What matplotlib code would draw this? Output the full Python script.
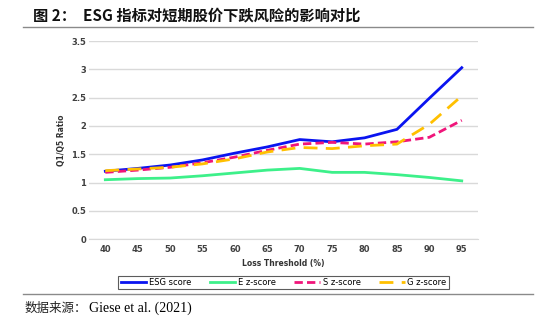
import matplotlib
matplotlib.use("Agg")
import matplotlib.pyplot as plt
from matplotlib.lines import Line2D

plt.rcParams['font.family'] = ['DejaVu Sans', 'Noto Sans CJK SC']

threshold = [40, 45, 50, 55, 60, 65, 70, 75, 80, 85, 90, 95]
esg = [1.20, 1.25, 1.31, 1.40, 1.52, 1.63, 1.76, 1.72, 1.79, 1.94, 2.49, 3.03]
e_z = [1.05, 1.07, 1.08, 1.12, 1.17, 1.22, 1.25, 1.18, 1.18, 1.14, 1.09, 1.03]
s_z = [1.18, 1.22, 1.27, 1.35, 1.45, 1.57, 1.68, 1.71, 1.68, 1.72, 1.80, 2.10]
g_z = [1.21, 1.24, 1.27, 1.33, 1.42, 1.54, 1.62, 1.60, 1.65, 1.68, 2.03, 2.53]
yticks = [0, 0.5, 1, 1.5, 2, 2.5, 3, 3.5]
ytick_labels = ['0', '0.5', '1', '1.5', '2', '2.5', '3', '3.5']

fig = plt.figure(figsize=(5.5, 3.21), dpi=100)
ax = fig.add_axes([0.162, 0.255, 0.707, 0.617])

ax.plot(threshold, esg, color='#0a14f0', lw=2.0, label='ESG score')
ax.plot(threshold, e_z, color='#3df08a', lw=2.0, label='E z-score')
ax.plot(threshold, s_z, color='#f0157a', lw=2.0, ls=(0, (3, 1.5)), label='S z-score')
ax.plot(threshold, g_z, color='#ffc000', lw=2.0, ls=(0, (5, 3)), label='G z-score')

ax.set_xlim(37.5, 97.5)
ax.set_ylim(0, 3.5)
ax.set_xticks(threshold)
ax.set_yticks(yticks)
ax.set_yticklabels(ytick_labels)
ax.grid(axis='y', color='#d9d9d9', lw=1.0)
ax.set_axisbelow(True)
for s in ['top', 'right', 'left']:
    ax.spines[s].set_visible(False)
ax.spines['bottom'].set_color('#d9d9d9')
ax.tick_params(axis='y', length=0, labelsize=6, colors='#404040', pad=2)
ax.tick_params(axis='x', length=0, labelsize=6, colors='#404040', pad=4)
for lab in ax.get_xticklabels() + ax.get_yticklabels():
    lab.set_fontweight('bold')
ax.set_xlabel('Loss Threshold (%)', fontsize=5.5, fontweight='bold', color='#333333', labelpad=4)
ax.set_ylabel('Q1/Q5 Ratio', fontsize=5.5, fontweight='bold', color='#333333', labelpad=4)

leg = ax.legend(loc='upper center', bbox_to_anchor=(0.5, -0.165), ncol=4, fontsize=6,
                frameon=True, fancybox=False, edgecolor='#333333', handlelength=3.1,
                columnspacing=2.2, borderpad=0.25, handletextpad=0.3)
leg.get_frame().set_linewidth(0.8)

# title and source
fig.text(0.06, 0.953, '图 2：  ESG 指标对短期股价下跌风险的影响对比', fontsize=11, fontweight='bold',
         family=['Noto Sans CJK SC', 'DejaVu Sans'], va='center', color='#111111')
fig.add_artist(Line2D([0.042, 0.969], [0.916, 0.916], color='#8a8a8a', lw=1.0))
fig.add_artist(Line2D([0.042, 0.969], [0.084, 0.084], color='#8a8a8a', lw=1.0))
fig.text(0.045, 0.04, '数据来源：', fontsize=9, family=['Noto Sans CJK SC'], va='center', color='#222222')
fig.text(0.162, 0.04, 'Giese et al. (2021)', fontsize=10, family=['Liberation Serif'], va='center')

fig.savefig('out.png', dpi=100)
